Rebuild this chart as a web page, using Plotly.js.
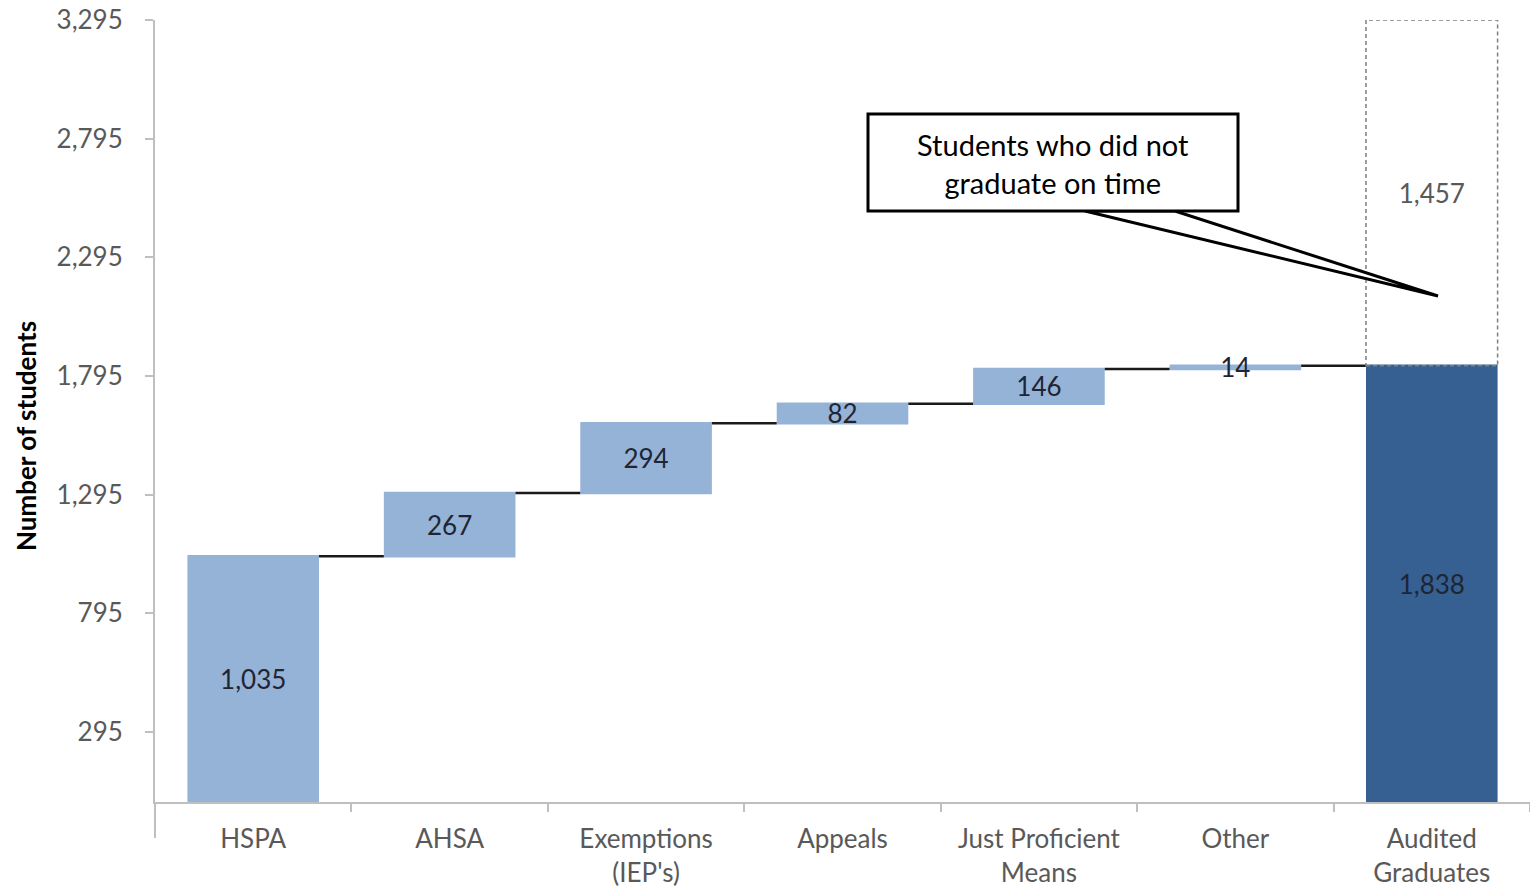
<!DOCTYPE html>
<html>
<head>
<meta charset="utf-8">
<script src="https://cdn.plot.ly/plotly-3.0.1.min.js"></script>
<style>html,body{margin:0;padding:0;background:#fff}#chart{width:1530px;height:890px}</style>
</head>
<body>
<div id="chart"></div>
<script>
const categories = ['HSPA', 'AHSA', "Exemptions<br>(IEP's)", 'Appeals', 'Just Proficient<br>Means', 'Other', 'Audited<br>Graduates'];
const steps = [1035, 267, 294, 82, 146, 14];
const notGraduated = 1457;
const yTicks = [295, 795, 1295, 1795, 2295, 2795, 3295];
const yTickLabels = ['295', '795', '1,295', '1,795', '2,295', '2,795', '3,295'];

const fmt = v => v.toLocaleString('en-US');
const total = steps.reduce((a, b) => a + b, 0);
const FONT = 'Lato, "Open Sans", sans-serif';
const barW = 0.67;
const lastIdx = categories.length - 1;

const wf = {
  type: 'waterfall',
  x: categories,
  y: steps.concat([0]),
  measure: steps.map(() => 'relative').concat(['total']),
  text: steps.map(fmt).concat([fmt(total)]),
  textinfo: 'text',
  textposition: 'inside',
  insidetextanchor: 'middle',
  textangle: 0,
  constraintext: 'none',
  textfont: {family: FONT, size: 26, color: '#1f2533'},
  width: barW,
  increasing: {marker: {color: '#95B3D7', line: {width: 0}}},
  decreasing: {marker: {color: '#95B3D7', line: {width: 0}}},
  totals: {marker: {color: '#366092', line: {width: 0}}},
  connector: {mode: 'between', line: {color: '#1a1a1a', width: 2.5}},
  hoverinfo: 'skip',
  showlegend: false
};

const gap = {
  type: 'bar',
  x: [categories[lastIdx]],
  y: [notGraduated],
  base: [total],
  width: barW,
  offset: -barW / 2,
  marker: {color: 'rgba(0,0,0,0)', line: {width: 0}},
  text: [fmt(notGraduated)],
  textposition: 'inside',
  insidetextanchor: 'middle',
  textangle: 0,
  constraintext: 'none',
  textfont: {family: FONT, size: 26, color: '#595959'},
  hoverinfo: 'skip',
  showlegend: false
};

const px = p => (p - 155) / 1375;
const py = p => (802 - p) / 782;

const layout = {
  width: 1530, height: 890,
  margin: {l: 155, r: 0, t: 20, b: 88},
  paper_bgcolor: '#ffffff', plot_bgcolor: '#ffffff',
  font: {family: FONT, color: '#595959'},
  xaxis: {
    type: 'category',
    showgrid: false, zeroline: false,
    showline: true, linecolor: '#bfbfbf', linewidth: 2,
    ticks: 'outside', tickson: 'boundaries', ticklen: 8, tickcolor: '#bfbfbf', tickwidth: 2,
    tickfont: {family: FONT, size: 26, color: '#595959'},
    ticklabelstandoff: 13,
    fixedrange: true
  },
  yaxis: {
    range: [0, 3295],
    tickvals: yTicks, ticktext: yTickLabels,
    showgrid: false, zeroline: false,
    showline: true, linecolor: '#bfbfbf', linewidth: 2,
    ticks: 'outside', ticklen: 8, tickcolor: '#bfbfbf', tickwidth: 2,
    tickfont: {family: FONT, size: 26, color: '#595959'},
    ticklabelstandoff: 17,
    fixedrange: true
  },
  shapes: [
    {type: 'line', xref: 'paper', yref: 'paper', x0: 0, x1: 0, y0: 0, y1: -36 / 782,
     line: {color: '#bfbfbf', width: 2}},
    {type: 'rect', xref: 'x', yref: 'y', layer: 'above',
     x0: lastIdx - barW / 2, x1: lastIdx + barW / 2, y0: total, y1: total + notGraduated,
     line: {color: '#7f7f7f', width: 1.5, dash: '4px,3px'}, fillcolor: 'rgba(0,0,0,0)'},
    {type: 'path', xref: 'paper', yref: 'paper', layer: 'above',
     path: `M ${px(1085)} ${py(211)} L ${px(1438)} ${py(296)} L ${px(1175)} ${py(211)} Z`,
     line: {color: '#000000', width: 3}, fillcolor: '#ffffff'},
    {type: 'rect', xref: 'paper', yref: 'paper', layer: 'above',
     x0: px(868), x1: px(1238), y0: py(211), y1: py(114),
     line: {color: '#000000', width: 3}, fillcolor: '#ffffff'}
  ],
  annotations: [
    {xref: 'paper', yref: 'paper', x: px(1053), y: py(164), xanchor: 'center', yanchor: 'middle',
     showarrow: false, text: 'Students who did not<br>graduate on time', align: 'center',
     font: {family: FONT, size: 29, color: '#000000'}},
    {xref: 'paper', yref: 'paper', x: px(26), y: py(436), xanchor: 'center', yanchor: 'middle',
     showarrow: false, textangle: -90, text: '<b>Number of students</b>',
     font: {family: FONT, size: 26, color: '#000000'}}
  ]
};

Plotly.newPlot('chart', [wf, gap], layout, {displayModeBar: false, staticPlot: true});
</script>
</body>
</html>
